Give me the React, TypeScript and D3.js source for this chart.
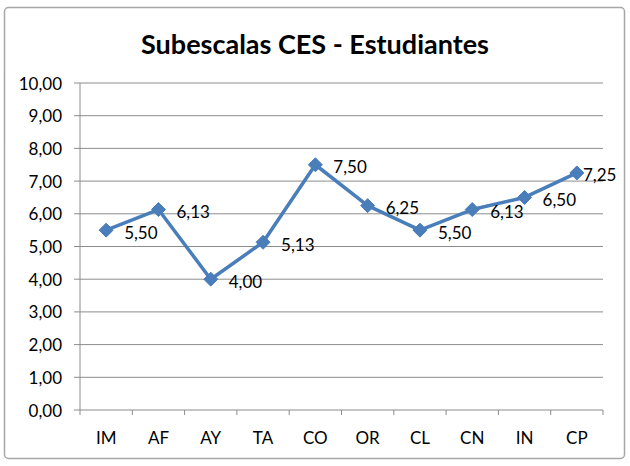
import React from "react";
import * as d3 from "d3";

const categories = ["IM", "AF", "AY", "TA", "CO", "OR", "CL", "CN", "IN", "CP"];
const values = [5.5, 6.13, 4.0, 5.13, 7.5, 6.25, 5.5, 6.13, 6.5, 7.25];
const yTicks = [0, 1, 2, 3, 4, 5, 6, 7, 8, 9, 10];
const title = "Subescalas CES - Estudiantes";

const W = 630;
const H = 466;
const plot = { left: 80, right: 603, top: 83, bottom: 410 };
const FONT = "Lato, Carlito, 'Open Sans', sans-serif";
const fmt = (v: number) => v.toFixed(2).replace(".", ",");

export default function App() {
  const x = d3
    .scaleBand<string>()
    .domain(categories)
    .range([plot.left, plot.right])
    .paddingInner(0)
    .paddingOuter(0);
  const y = d3.scaleLinear().domain([0, 10]).range([plot.bottom, plot.top]);
  const cx = (c: string) => (x(c) as number) + x.bandwidth() / 2;

  const line = d3
    .line<number>()
    .x((_, i) => cx(categories[i]))
    .y((d) => y(d));

  const gridColor = "#8c8c8c";
  const blue = "#4A7EBB";
  const chartRight = 624;
  const fs = 17;

  return (
    <svg
      width={W}
      height={H}
      style={{ position: "absolute", left: 0, top: 0, background: "#fff" }}
    >
      <rect x={4.5} y={7.5} width={620} height={451} rx={4} fill="#fff" stroke="#a6a6a6" strokeWidth={1.5} />
      <text
        x={315}
        y={43}
        textAnchor="middle"
        dominantBaseline="central"
        fontFamily={FONT}
        fontWeight="bold"
        fontSize={27}
        fill="#000"
      >
        {title}
      </text>
      {yTicks.map((t) => (
        <g key={t}>
          <line x1={plot.left - 6} x2={plot.right} y1={y(t)} y2={y(t)} stroke={gridColor} strokeWidth={1} />
          <text
            x={62}
            y={y(t)}
            textAnchor="end"
            dominantBaseline="central"
            fontFamily={FONT}
            fontSize={fs}
            fill="#000"
          >
            {fmt(t)}
          </text>
        </g>
      ))}
      <line x1={plot.left} x2={plot.left} y1={plot.top} y2={plot.bottom} stroke={gridColor} strokeWidth={1} />
      {categories.map((c) => (
        <line
          key={"t" + c}
          x1={x(c) as number}
          x2={x(c) as number}
          y1={plot.bottom}
          y2={plot.bottom + 5}
          stroke={gridColor}
          strokeWidth={1}
        />
      ))}
      <line x1={plot.right} x2={plot.right} y1={plot.bottom} y2={plot.bottom + 5} stroke={gridColor} strokeWidth={1} />
      {categories.map((c) => (
        <text
          key={"l" + c}
          x={cx(c)}
          y={437}
          textAnchor="middle"
          dominantBaseline="central"
          fontFamily={FONT}
          fontSize={fs}
          fill="#000"
        >
          {c}
        </text>
      ))}
      <path d={line(values) || ""} fill="none" stroke={blue} strokeWidth={3.5} strokeLinejoin="round" />
      {values.map((v, i) => {
        const px = cx(categories[i]);
        const py = y(v);
        const s = 7;
        return (
          <path
            key={"m" + i}
            d={`M${px},${py - s}L${px + s},${py}L${px},${py + s}L${px - s},${py}Z`}
            fill={blue}
            stroke={blue}
            strokeWidth={1}
          />
        );
      })}
      {values.map((v, i) => {
        const px = cx(categories[i]);
        const py = y(v);
        const labelW = 38;
        const lx = Math.min(px + 18, chartRight - labelW - 3);
        return (
          <text
            key={"d" + i}
            x={lx}
            y={py + 2}
            dominantBaseline="central"
            fontFamily={FONT}
            fontSize={fs}
            fill="#000"
          >
            {fmt(v)}
          </text>
        );
      })}
    </svg>
  );
}
